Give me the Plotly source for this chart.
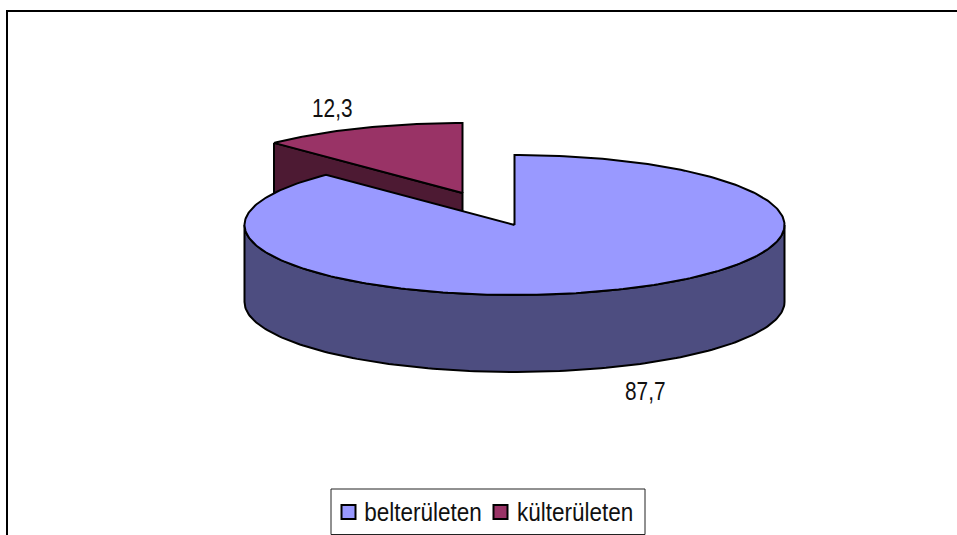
import numpy as np
import plotly.graph_objects as go

categories = ["belterületen", "külterületen"]
values = [87.7, 12.3]
value_labels = ["87,7", "12,3"]
top_colors = ["#9999FF", "#993366"]
side_colors = ["#4D4D80", "#4D1A33"]

W, H = 957, 535
CX, CY, RX, RY, DEPTH = 514.5, 225, 270, 70, 77
EXPLODE = (-52, -32)

fractions = np.array(values) / sum(values)
big_end = fractions[0] * 2 * np.pi


def ell(t, dx=0, dy=0, drop=0):
    return CX + dx + RX * np.sin(t), CY + dy + drop - RY * np.cos(t)


def poly(fig, x, y, fill):
    fig.add_trace(go.Scatter(x=list(x), y=list(y), mode="lines", fill="toself", fillcolor=fill,
                             line=dict(color="black", width=2), hoverinfo="skip", showlegend=False))


fig = go.Figure()

# exploded small slice
dx, dy = EXPLODE
t2 = np.linspace(big_end, 2 * np.pi, 60)
ex, ey = ell(big_end, dx, dy)
# cut face from rim to centre
poly(fig, [ex, CX + dx, CX + dx, ex, ex],
     [ey, CY + dy, CY + dy + DEPTH, ey + DEPTH, ey], side_colors[1])
x2, y2 = ell(t2, dx, dy)
poly(fig, np.r_[CX + dx, x2, CX + dx], np.r_[CY + dy, y2, CY + dy], top_colors[1])

# main slice wall (visible front half only)
t_front = np.linspace(np.pi / 2, 3 * np.pi / 2, 160)
xt, yt = ell(t_front)
xb, yb = ell(t_front[::-1], drop=DEPTH)
poly(fig, np.r_[xt, xb, xt[0]], np.r_[yt, yb, yt[0]], side_colors[0])

# main slice top
t1 = np.linspace(0, big_end, 300)
x1, y1 = ell(t1)
poly(fig, np.r_[CX, x1, CX], np.r_[CY, y1, CY], top_colors[0])

# legend keys
fig.add_trace(go.Scatter(x=[348.5], y=[512], mode="markers", hoverinfo="skip", showlegend=False,
                         marker=dict(symbol="square", size=14, color=top_colors[0], line=dict(color="black", width=2))))
fig.add_trace(go.Scatter(x=[500.5], y=[512], mode="markers", hoverinfo="skip", showlegend=False,
                         marker=dict(symbol="square", size=14, color=top_colors[1], line=dict(color="black", width=2))))

FONT = dict(family="Liberation Sans, Arial, sans-serif", size=26, color="#111111")
notes = [
    dict(x=645, y=391, text=value_labels[0]),
    dict(x=332, y=108, text=value_labels[1]),
    dict(x=422.5, y=512, text=categories[0]),
    dict(x=575, y=512, text=categories[1]),
]
fig.update_layout(
    width=W, height=H, margin=dict(l=0, r=0, t=0, b=0), autosize=False,
    paper_bgcolor="white", plot_bgcolor="white", showlegend=False,
    xaxis=dict(range=[0, W], visible=False, fixedrange=True),
    yaxis=dict(range=[H, 0], visible=False, fixedrange=True),
    annotations=[dict(xref="x", yref="y", showarrow=False, font=FONT, **n) for n in notes],
    shapes=[
        dict(type="rect", xref="x", yref="y", x0=7, y0=11, x1=W + 30, y1=H + 30,
             line=dict(color="black", width=2), layer="below"),
        dict(type="rect", xref="x", yref="y", x0=331, y0=489, x1=645, y1=534.5,
             line=dict(color="#222222", width=1), layer="below"),
    ],
)
# The reference face is a condensed one: keep real text, compress it horizontally.
post = """
document.body.style.margin='0';document.body.style.overflow='hidden';
document.querySelectorAll('.annotation-text').forEach(function(t){
  var w=t.getComputedTextLength();
  var f=t.textContent.indexOf(',')>=0?0.8:0.865;
  t.setAttribute('textLength',w*f);
  t.setAttribute('lengthAdjust','spacingAndGlyphs');
});
"""
fig.write_html("out.html", config=dict(displayModeBar=False), post_script=post)
